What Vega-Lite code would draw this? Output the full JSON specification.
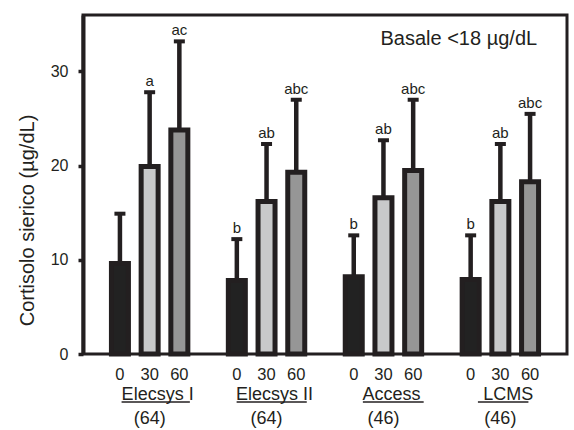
{
  "$schema": "https://vega.github.io/schema/vega-lite/v6.json",
  "width": 484,
  "height": 339,
  "autosize": {"type": "none"},
  "padding": {"left": 83, "top": 15, "right": 7, "bottom": 76},
  "config": {
    "font": "Liberation Sans",
    "view": {"stroke": "#231f20", "strokeWidth": 3},
    "axis": {"grid": false}
  },
  "datasets": {
    "bars": [
      {"group": "Elecsys I", "time": "0", "mean": 9.6, "upper": 14.9, "letter": ""},
      {"group": "Elecsys I", "time": "30", "mean": 19.9, "upper": 27.8, "letter": "a"},
      {"group": "Elecsys I", "time": "60", "mean": 23.8, "upper": 33.2, "letter": "ac"},
      {"group": "Elecsys II", "time": "0", "mean": 7.8, "upper": 12.2, "letter": "b"},
      {"group": "Elecsys II", "time": "30", "mean": 16.2, "upper": 22.3, "letter": "ab"},
      {"group": "Elecsys II", "time": "60", "mean": 19.3, "upper": 27.0, "letter": "abc"},
      {"group": "Access", "time": "0", "mean": 8.2, "upper": 12.6, "letter": "b"},
      {"group": "Access", "time": "30", "mean": 16.6, "upper": 22.7, "letter": "ab"},
      {"group": "Access", "time": "60", "mean": 19.5, "upper": 27.0, "letter": "abc"},
      {"group": "LCMS", "time": "0", "mean": 7.9, "upper": 12.6, "letter": "b"},
      {"group": "LCMS", "time": "30", "mean": 16.2, "upper": 22.3, "letter": "ab"},
      {"group": "LCMS", "time": "60", "mean": 18.3, "upper": 25.5, "letter": "abc"}
    ],
    "groups": [
      {"group": "Elecsys I", "n": "(64)"},
      {"group": "Elecsys II", "n": "(64)"},
      {"group": "Access", "n": "(46)"},
      {"group": "LCMS", "n": "(46)"}
    ]
  },
  "encoding": {
    "x": {
      "field": "group",
      "type": "nominal",
      "sort": ["Elecsys I", "Elecsys II", "Access", "LCMS"],
      "scale": {"paddingInner": 0.2, "paddingOuter": 0.17},
      "axis": null
    }
  },
  "layer": [
    {
      "data": {"name": "bars"},
      "mark": {"type": "rule", "stroke": "#231f20", "strokeWidth": 4.5},
      "encoding": {
        "xOffset": {"field": "time", "type": "nominal", "sort": ["0", "30", "60"], "scale": {"paddingInner": 0.428, "paddingOuter": 0.288}},
        "y": {"field": "mean", "type": "quantitative"},
        "y2": {"field": "upper"}
      }
    },
    {
      "data": {"name": "bars"},
      "mark": {"type": "tick", "color": "#231f20", "size": 11, "thickness": 4, "opacity": 1},
      "encoding": {
        "xOffset": {"field": "time", "type": "nominal", "sort": ["0", "30", "60"], "scale": {"paddingInner": 0.428, "paddingOuter": 0.288}},
        "y": {"field": "upper", "type": "quantitative"}
      }
    },
    {
      "data": {"name": "bars"},
      "mark": {"type": "bar", "stroke": "#231f20", "strokeWidth": 5},
      "encoding": {
        "xOffset": {"field": "time", "type": "nominal", "sort": ["0", "30", "60"], "scale": {"paddingInner": 0.428, "paddingOuter": 0.288}},
        "y": {
          "field": "mean",
          "type": "quantitative",
          "scale": {"domain": [0, 36], "nice": false},
          "axis": {
            "values": [0, 10, 20, 30],
            "title": "Cortisolo sierico (µg/dL)",
            "titleFont": "Liberation Sans",
            "titleFontSize": 20,
            "titleFontWeight": "normal",
            "titleColor": "#231f20",
            "titleY": 205,
            "titleX": -56,
            "titleAngle": -90,
            "titleAlign": "center",
            "titleBaseline": "middle",
            "labelFontSize": 16,
            "labelColor": "#231f20",
            "labelPadding": 10,
            "tickSize": 5,
            "tickWidth": 3.5,
            "tickColor": "#231f20",
            "domainColor": "#231f20",
            "domainWidth": 4
          }
        },
        "fill": {
          "field": "time",
          "type": "nominal",
          "scale": {"domain": ["0", "30", "60"], "range": ["#222222", "#c8c9ca", "#969696"]},
          "legend": null
        }
      }
    },
    {
      "data": {"name": "bars"},
      "mark": {"type": "text", "fontSize": 15, "baseline": "alphabetic", "dy": -6, "color": "#231f20"},
      "encoding": {
        "xOffset": {"field": "time", "type": "nominal", "sort": ["0", "30", "60"], "scale": {"paddingInner": 0.428, "paddingOuter": 0.288}},
        "y": {"field": "upper", "type": "quantitative"},
        "text": {"field": "letter"}
      }
    },
    {
      "data": {"name": "bars"},
      "mark": {"type": "text", "fontSize": 16.5, "baseline": "alphabetic", "dy": 26, "color": "#231f20"},
      "encoding": {
        "xOffset": {"field": "time", "type": "nominal", "sort": ["0", "30", "60"], "scale": {"paddingInner": 0.428, "paddingOuter": 0.288}},
        "y": {"datum": 0, "type": "quantitative"},
        "text": {"field": "time"}
      }
    },
    {
      "data": {"name": "groups"},
      "mark": {"type": "text", "fontSize": 18, "baseline": "alphabetic", "dy": 46, "dx": 8, "color": "#231f20"},
      "encoding": {
        "y": {"datum": 0, "type": "quantitative"},
        "text": {"field": "group"}
      }
    },
    {
      "data": {"name": "groups"},
      "transform": [{"filter": "datum.group === 'Elecsys I'"}],
      "mark": {"type": "rule", "stroke": "#231f20", "strokeWidth": 1.5, "yOffset": 48},
      "encoding": {
        "x": {"field": "group", "type": "nominal", "bandPosition": 0.2},
        "x2": {"field": "group", "bandPosition": 0.93},
        "y": {"datum": 0, "type": "quantitative"}
      }
    },
    {
      "data": {"name": "groups"},
      "transform": [{"filter": "datum.group === 'Elecsys II'"}],
      "mark": {"type": "rule", "stroke": "#231f20", "strokeWidth": 1.5, "yOffset": 48},
      "encoding": {
        "x": {"field": "group", "type": "nominal", "bandPosition": 0.18},
        "x2": {"field": "group", "bandPosition": 0.93},
        "y": {"datum": 0, "type": "quantitative"}
      }
    },
    {
      "data": {"name": "groups"},
      "transform": [{"filter": "datum.group === 'Access'"}],
      "mark": {"type": "rule", "stroke": "#231f20", "strokeWidth": 1.5, "yOffset": 48},
      "encoding": {
        "x": {"field": "group", "type": "nominal", "bandPosition": 0.28},
        "x2": {"field": "group", "bandPosition": 0.93},
        "y": {"datum": 0, "type": "quantitative"}
      }
    },
    {
      "data": {"name": "groups"},
      "transform": [{"filter": "datum.group === 'LCMS'"}],
      "mark": {"type": "rule", "stroke": "#231f20", "strokeWidth": 1.5, "yOffset": 48},
      "encoding": {
        "x": {"field": "group", "type": "nominal", "bandPosition": 0.26},
        "x2": {"field": "group", "bandPosition": 0.8},
        "y": {"datum": 0, "type": "quantitative"}
      }
    },
    {
      "data": {"name": "groups"},
      "mark": {"type": "text", "fontSize": 18, "baseline": "alphabetic", "dy": 70, "color": "#231f20"},
      "encoding": {
        "y": {"datum": 0, "type": "quantitative"},
        "text": {"field": "n"}
      }
    },
    {
      "data": {"values": [{"label": "Basale <18 µg/dL"}]},
      "mark": {"type": "text", "fontSize": 20, "align": "right", "baseline": "alphabetic", "dx": -10, "color": "#231f20"},
      "encoding": {
        "x": {"datum": "LCMS", "bandPosition": 1},
        "y": {"datum": 32.8, "type": "quantitative"},
        "text": {"field": "label"}
      }
    }
  ]
}
